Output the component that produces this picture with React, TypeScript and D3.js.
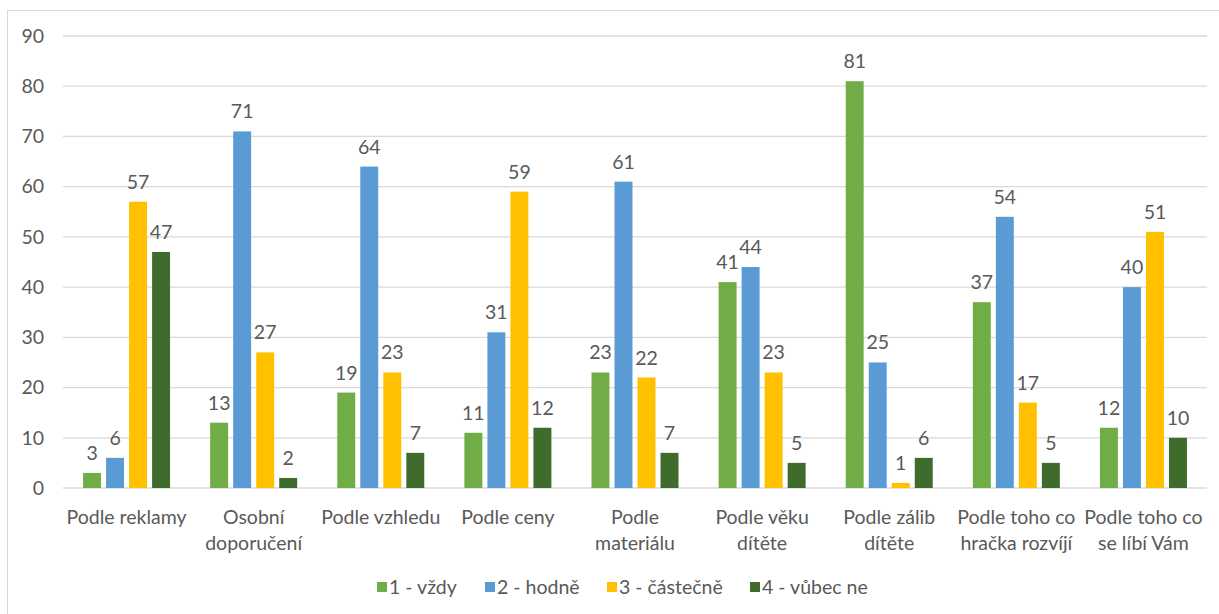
import React from "react";
import * as d3 from "d3";

const categories = [
  ["Podle reklamy"],
  ["Osobní", "doporučení"],
  ["Podle vzhledu"],
  ["Podle ceny"],
  ["Podle", "materiálu"],
  ["Podle věku", "dítěte"],
  ["Podle zálib", "dítěte"],
  ["Podle toho co", "hračka rozvíjí"],
  ["Podle toho co", "se líbí Vám"],
];
const seriesNames = ["1 - vždy", "2 - hodně", "3 - částečně", "4 - vůbec ne"];
const seriesColors = ["#70ad47", "#5b9bd5", "#ffc000", "#3f6b2c"];
const vzdy = [3, 13, 19, 11, 23, 41, 81, 37, 12];
const hodne = [6, 71, 64, 31, 61, 44, 25, 54, 40];
const castecne = [57, 27, 23, 59, 22, 23, 1, 17, 51];
const vubecNe = [47, 2, 7, 12, 7, 5, 6, 5, 10];
const yTicks = [0, 10, 20, 30, 40, 50, 60, 70, 80, 90];

const W = 1219;
const H = 614;
const plot = { left: 63, right: 1207, top: 36, bottom: 488 };
const textColor = "#595959";
const font = "Lato, 'Open Sans', sans-serif";
const fs = 19.5;

export default function App() {
  const series = [vzdy, hodne, castecne, vubecNe];
  const keys = categories.map((c) => c.join(" "));
  const x = d3.scaleBand().domain(keys).range([plot.left, plot.right]).padding(0);
  const y = d3.scaleLinear().domain([0, 90]).range([plot.bottom, plot.top]);
  const groupSpan = 87;
  const xs = d3
    .scaleBand<number>()
    .domain(d3.range(series.length))
    .range([-groupSpan / 2, groupSpan / 2])
    .paddingInner(0.22)
    .paddingOuter(0);

  // legend markers sit at these x positions in the original
  const legendX = [377, 485, 607, 750];

  return (
    <svg
      width={W}
      height={H}
      style={{ position: "absolute", left: 0, top: 0, background: "#fff" }}
      fontFamily={font}
    >
      <rect x={7.5} y={10.5} width={W} height={H} fill="#fff" stroke="#d9d9d9" />
      {yTicks.map((t) => (
        <g key={t}>
          <line x1={plot.left} x2={plot.right} y1={y(t)} y2={y(t)} stroke="#d9d9d9" strokeWidth={1.3} />
          <text x={44} y={y(t)} dy="0.35em" textAnchor="end" fontSize={fs} fill={textColor}>
            {t}
          </text>
        </g>
      ))}
      {categories.map((cat, i) => {
        const cx = x(keys[i])! + x.bandwidth() / 2;
        return (
          <g key={keys[i]}>
            {series.map((s, j) => {
              const bx = cx + xs(j)!;
              const v = s[i];
              return (
                <g key={j}>
                  <rect
                    x={bx}
                    y={y(v)}
                    width={xs.bandwidth()}
                    height={y(0) - y(v)}
                    fill={seriesColors[j]}
                  />
                  <text
                    x={bx + xs.bandwidth() / 2}
                    y={y(v) - 13}
                    textAnchor="middle"
                    fontSize={fs}
                    fill={textColor}
                  >
                    {v}
                  </text>
                </g>
              );
            })}
            {cat.map((line, k) => (
              <text
                key={k}
                x={cx}
                y={524 + k * 26}
                textAnchor="middle"
                fontSize={fs}
                fill={textColor}
              >
                {line}
              </text>
            ))}
          </g>
        );
      })}
      {seriesNames.map((n, j) => (
        <g key={n} transform={`translate(${legendX[j]},587)`}>
          <rect x={0} y={-5} width={10} height={10} fill={seriesColors[j]} />
          <text x={12} y={0} dy="0.35em" fontSize={fs} fill={textColor}>
            {n}
          </text>
        </g>
      ))}
    </svg>
  );
}
